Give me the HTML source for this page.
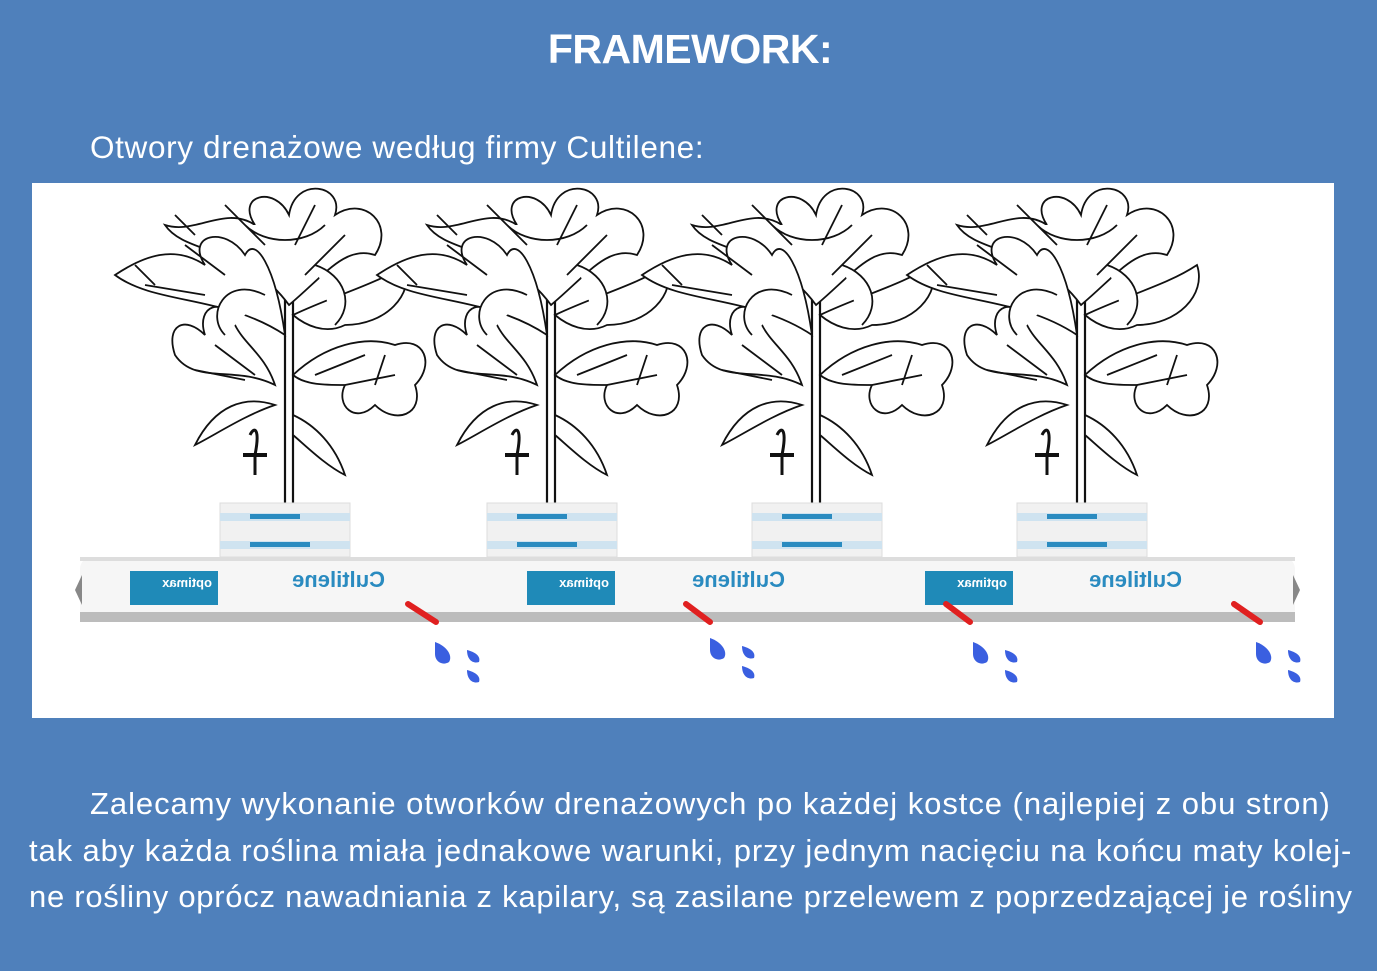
<!DOCTYPE html>
<html><head><meta charset="utf-8"><style>
body{margin:0;width:1377px;height:971px;background:#4f80bb;font-family:"Liberation Sans",sans-serif;color:#fff;position:relative;overflow:hidden}
.t{position:absolute;white-space:nowrap}
</style></head><body>
<div class="t" style="left:0;width:1380px;text-align:center;top:26px;font-size:41px;font-weight:bold;letter-spacing:-0.5px">FRAMEWORK:</div>
<div class="t" style="left:90px;top:129px;font-size:31.5px;letter-spacing:0.65px">Otwory drenażowe według firmy Cultilene:</div>
<svg style="position:absolute;left:32px;top:183px" width="1302" height="535" viewBox="32 183 1302 535">
<defs>
<g id="plant" fill="#fff" stroke="#111" stroke-width="1.8">
<path d="M0,320 L0,90 M8,320 L8,90" stroke-width="2.2"/>
<path d="M4,120 C-40,60 -100,70 -120,40 C-90,50 -60,20 -30,40 C-50,10 -10,0 4,30 C10,-10 60,0 50,30 C80,10 110,40 90,70 C60,60 40,90 4,120Z"/>
<path d="M0,150 C-60,110 -130,120 -170,90 C-140,70 -110,60 -80,80 C-100,50 -60,40 -40,70 C-30,50 -10,80 0,150Z"/>
<path d="M-10,200 C-50,180 -90,200 -110,170 C-120,140 -100,130 -80,150 C-90,120 -60,110 -50,140 C-40,160 -20,170 -10,200Z"/>
<path d="M8,190 C40,160 80,150 110,160 C140,150 150,180 130,200 C140,230 110,240 90,220 C70,240 50,220 60,200 C40,200 20,200 8,190Z"/>
<path d="M8,230 C30,240 50,260 60,290 C40,280 20,260 8,250Z"/>
<path d="M8,130 C50,110 90,100 120,80 C130,110 100,140 60,140 C40,150 20,140 8,130Z"/>
<path d="M-10,220 C-40,230 -70,250 -90,260 C-70,220 -40,210 -10,220Z"/>
<path d="M-20,110 C-60,90 -80,130 -60,150 M30,80 C60,90 70,120 50,140 M-40,40 C-20,60 20,60 40,40 M-100,60 L-60,90 M-140,100 L-80,110 M-60,20 L-20,60 M30,20 L10,60 M60,50 L20,90 M80,170 L30,190 M110,190 L60,200 M-70,160 L-30,190 M-90,185 L-40,195 M-150,80 L-130,100 M-110,30 L-90,50 M100,170 L90,200"/>
<path d="M-35,250 C-30,240 -25,245 -30,270 L-30,290" stroke-width="3" fill="none"/>
<path d="M-42,270 L-18,270" stroke-width="4"/>
</g>
<g id="cube">
<rect x="0" y="0" width="130" height="54" fill="#f1f1f1" stroke="#ddd"/>
<rect x="0" y="10" width="130" height="8" fill="#cfe3f0"/>
<rect x="0" y="38" width="130" height="8" fill="#cfe3f0"/>
<rect x="30" y="11" width="50" height="5" fill="#2a8bc0"/>
<rect x="30" y="39" width="60" height="5" fill="#2a8bc0"/>
</g>
<g id="drop" fill="#3a5fe0">
<path d="M0,0 C12,4 18,14 14,20 C8,24 0,20 0,12Z"/>
<path d="M32,8 C40,10 46,14 44,20 C38,22 32,18 32,8Z"/>
<path d="M32,28 C40,30 46,34 44,40 C38,42 32,38 32,28Z"/>
</g>
</defs>
<rect x="32" y="183" width="1302" height="535" fill="#fff"/>
<use href="#plant" x="285" y="185"/>
<use href="#plant" x="547" y="185"/>
<use href="#plant" x="812" y="185"/>
<use href="#plant" x="1077" y="185"/>
<use href="#cube" x="220" y="503"/>
<use href="#cube" x="487" y="503"/>
<use href="#cube" x="752" y="503"/>
<use href="#cube" x="1017" y="503"/>
<rect x="80" y="557" width="1215" height="65" rx="12" fill="#f6f6f6"/>
<rect x="80" y="612" width="1215" height="10" fill="#bcbcbc"/>
<rect x="80" y="557" width="1215" height="4" fill="#ddd"/>
<path d="M82,575 L75,590 L82,605Z M1293,575 L1300,590 L1293,605Z" fill="#888"/>
<g fill="#1f8ab8"><rect x="130" y="571" width="88" height="34"/><rect x="527" y="571" width="88" height="34"/><rect x="925" y="571" width="88" height="34"/></g>
<g font-family="Liberation Sans,sans-serif" font-weight="bold" fill="#2a8bc0" font-size="22">
<text x="-385" y="587" transform="scale(-1,1)">Cultilene</text>
<text x="-785" y="587" transform="scale(-1,1)">Cultilene</text>
<text x="-1182" y="587" transform="scale(-1,1)">Cultilene</text>
</g>
<g font-family="Liberation Sans,sans-serif" font-weight="bold" fill="#fff" font-size="13">
<text x="-212" y="587" transform="scale(-1,1)">optimax</text>
<text x="-609" y="587" transform="scale(-1,1)">optimax</text>
<text x="-1007" y="587" transform="scale(-1,1)">optimax</text>
</g>
<g stroke="#e02020" stroke-width="6" stroke-linecap="round">
<line x1="408" y1="604" x2="436" y2="622"/><line x1="686" y1="604" x2="710" y2="622"/><line x1="946" y1="604" x2="970" y2="622"/><line x1="1234" y1="604" x2="1260" y2="622"/>
</g>
<use href="#drop" x="435" y="642"/>
<use href="#drop" x="710" y="638"/>
<use href="#drop" x="973" y="642"/>
<use href="#drop" x="1256" y="642"/>
</svg>
<div class="t" style="left:90px;top:786px;font-size:31px;letter-spacing:0.95px">Zalecamy wykonanie otworków drenażowych po każdej kostce (najlepiej z obu stron)</div>
<div class="t" style="left:29px;top:833px;font-size:31px;letter-spacing:0.88px">tak aby każda roślina miała jednakowe warunki, przy jednym nacięciu na końcu maty kolej-</div>
<div class="t" style="left:29px;top:879px;font-size:31px;letter-spacing:0.73px">ne rośliny oprócz nawadniania z kapilary, są zasilane przelewem z poprzedzającej je rośliny</div>
</body></html>
